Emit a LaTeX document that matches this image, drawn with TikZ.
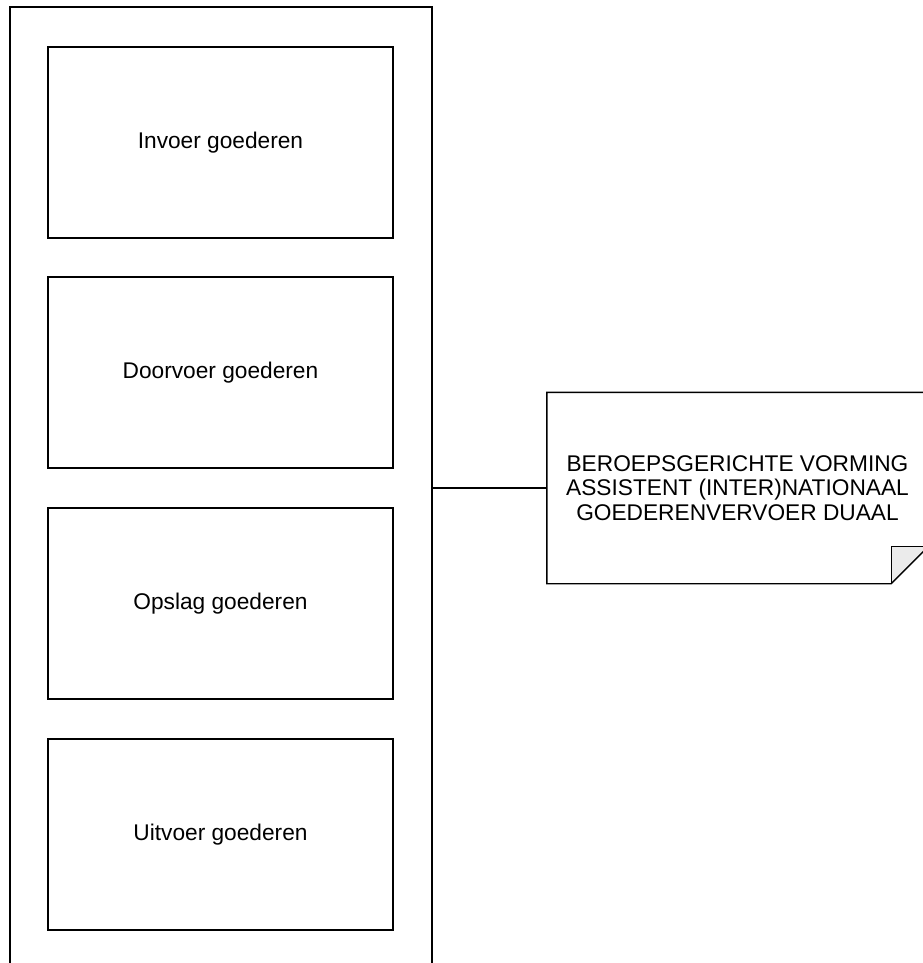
\documentclass[tikz,border=0pt]{standalone}
\usepackage{fontspec}
\setmainfont{Liberation Sans}
\usepackage{tikz}
\usetikzlibrary{positioning}
\definecolor{foldgray}{RGB}{235,235,235}

\begin{document}
\begin{tikzpicture}[x=1pt, y=-1pt,
    box/.style={draw, line width=1.4pt, minimum width=345pt, minimum height=191pt, inner sep=0pt,
        font=\fontsize{22.7}{27}\selectfont},
    notebox/.style={minimum width=381pt, minimum height=191pt, inner sep=0pt, align=center,
        font=\fontsize{22.7}{24.6}\selectfont}]
    \useasboundingbox (0,0) rectangle (922,963);
    % Container with the four steps
    \node[draw, line width=1.4pt, minimum width=422pt, minimum height=962pt, inner sep=0pt] (lane) at (221,488) {};
    \node[box] (invoer) at (220.5,142.5) {Invoer goederen};
    \node[box] (doorvoer) at (220.5,372.5) {Doorvoer goederen};
    \node[box] (opslag) at (220.5,603.5) {Opslag goederen};
    \node[box] (uitvoer) at (220.5,834.5) {Uitvoer goederen};

    % Note with folded corner
    \node[notebox] (note) at (737.5,488) {BEROEPSGERICHTE VORMING\\ASSISTENT (INTER)NATIONAAL\\GOEDERENVERVOER DUAAL};
    \fill[foldgray] ([xshift=-37pt]note.south east) -- ([xshift=-37pt,yshift=37pt]note.south east) -- ([yshift=37pt]note.south east) -- cycle;
    \draw[line width=1.4pt, line join=miter] (note.north west) -- (note.north east) -- ([yshift=37pt]note.south east)
        -- ([xshift=-37pt]note.south east) -- (note.south west) -- cycle;
    \draw[line width=1.4pt] ([xshift=-37pt]note.south east) -- ([xshift=-37pt,yshift=37pt]note.south east) -- ([yshift=37pt]note.south east);

    \draw[line width=1.4pt] (lane.east) -- (note.west);
\end{tikzpicture}
\end{document}
